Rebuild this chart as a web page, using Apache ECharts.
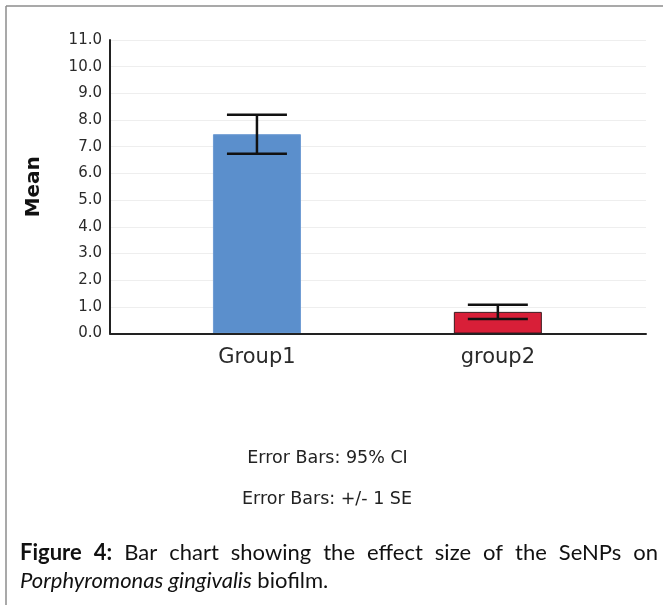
<!DOCTYPE html>
<html>
<head>
<meta charset="utf-8">
<script src="https://cdn.jsdelivr.net/npm/echarts@6/dist/echarts.min.js"></script>
<style>
html,body{margin:0;padding:0;background:#fff;}
#chart{width:663px;height:605px;}
</style>
</head>
<body>
<div id="chart"></div>
<script>
// ---- data ----
const categories = ['Group1', 'group2'];
const means = [7.47, 0.81];
const ciLower = [6.74, 0.54];
const ciUpper = [8.20, 1.08];
const barColors = ['#5b8fcc', '#d81f38'];
const yTicks = [0, 1, 2, 3, 4, 5, 6, 7, 8, 9, 10, 11];
const noteLines = ['Error Bars: 95% CI', 'Error Bars: +/- 1 SE'];
const captionLine1 = [['Figure', true], ['4:', true], ['Bar', false], ['chart', false], ['showing', false], ['the', false], ['effect', false], ['size', false], ['of', false], ['the', false], ['SeNPs', false], ['on', false]];
const captionLine2Italic = 'Porphyromonas gingivalis';
const captionLine2Rest = ' biofilm.';

const chart = echarts.init(document.getElementById('chart'));

// justified caption line 1
const capFontSize = 22;
const capFamily = 'Lato';
const ctx = document.createElement('canvas').getContext('2d');
function measure(t, bold) {
  ctx.font = (bold ? 'bold ' : '') + capFontSize + 'px ' + capFamily;
  return ctx.measureText(t).width;
}
const lineLeft = 20, lineRight = 658;
const widths = captionLine1.map(w => measure(w[0], w[1]));
const total = widths.reduce((a, b) => a + b, 0);
const gap = (lineRight - lineLeft - total) / (captionLine1.length - 1);
const captionGraphics = [];
let cx = lineLeft;
captionLine1.forEach((w, i) => {
  captionGraphics.push({
    type: 'text', x: cx, y: 552.5,
    style: { text: w[0], fontFamily: capFamily, fontSize: capFontSize, fontWeight: w[1] ? 'bold' : 'normal', fill: '#111', verticalAlign: 'middle', align: 'left' }
  });
  cx += widths[i] + gap;
});
captionGraphics.push({
  type: 'text', x: lineLeft, y: 580.5,
  style: {
    text: '{i|' + captionLine2Italic + '}{r|' + captionLine2Rest + '}',
    verticalAlign: 'middle', align: 'left',
    rich: {
      i: { fontFamily: capFamily, fontSize: capFontSize, fontStyle: 'italic', fill: '#111' },
      r: { fontFamily: capFamily, fontSize: capFontSize, fill: '#111' }
    }
  }
});

const barData = categories.map((c, i) => ({
  value: [i + 1, means[i]],
  itemStyle: { color: barColors[i], borderColor: i === 1 ? '#3b1a1e' : '#6d9bd3', borderWidth: 1 }
}));
const errData = categories.map((c, i) => [i + 1, ciLower[i], ciUpper[i]]);

const option = {
  backgroundColor: '#fff',
  animation: false,
  grid: { left: 110, right: 17, top: 40, bottom: 271.5, containLabel: false },
  xAxis: {
    type: 'value', min: 0.39, max: 2.615, z: 5,
    splitLine: { show: false },
    axisTick: { show: false },
    axisLine: { show: true, lineStyle: { color: '#222', width: 2 } },
    axisLabel: {
      customValues: [1, 2],
      formatter: v => categories[Math.round(v) - 1] || '',
      fontFamily: 'DejaVu Sans', fontSize: 21, color: '#2a2a2a', margin: 14
    }
  },
  yAxis: {
    type: 'value', min: 0, max: 11, interval: 1,
    name: 'Mean', nameLocation: 'middle', nameGap: 66, nameRotate: 90,
    nameTextStyle: { fontFamily: 'DejaVu Sans', fontWeight: 'bold', fontSize: 20, color: '#111' },
    axisLine: { show: true, lineStyle: { color: '#222', width: 2 } },
    axisTick: { show: false },
    axisLabel: { formatter: v => v.toFixed(1), fontFamily: 'DejaVu Sans', fontSize: 15, color: '#2a2a2a', margin: 8 },
    splitLine: { show: true, lineStyle: { color: '#eeeeee', width: 1 } }
  },
  series: [
    { type: 'bar', data: barData, barWidth: 88 },
    {
      type: 'custom', z: 6,
      data: errData,
      renderItem: function (params, api) {
        const x = api.value(0);
        const lo = api.coord([x, api.value(1)]);
        const hi = api.coord([x, api.value(2)]);
        const hw = 30;
        const st = { stroke: '#111', lineWidth: 2.5 };
        return {
          type: 'group',
          children: [
            { type: 'line', shape: { x1: hi[0], y1: hi[1], x2: lo[0], y2: lo[1] }, style: st },
            { type: 'line', shape: { x1: hi[0] - hw, y1: hi[1], x2: hi[0] + hw, y2: hi[1] }, style: st },
            { type: 'line', shape: { x1: lo[0] - hw, y1: lo[1], x2: lo[0] + hw, y2: lo[1] }, style: st }
          ]
        };
      }
    }
  ],
  graphic: [
    { type: 'line', shape: { x1: 6, y1: 6, x2: 663, y2: 6 }, style: { stroke: '#8c8c8c', lineWidth: 1.5 } },
    { type: 'line', shape: { x1: 6, y1: 6, x2: 6, y2: 605 }, style: { stroke: '#8c8c8c', lineWidth: 1.5 } },
    { type: 'text', x: 327.5, y: 458.5, style: { text: noteLines[0], fontFamily: 'DejaVu Sans', fontSize: 17.5, fill: '#222', align: 'center', verticalAlign: 'middle' } },
    { type: 'text', x: 327, y: 499, style: { text: noteLines[1], fontFamily: 'DejaVu Sans', fontSize: 17.5, fill: '#222', align: 'center', verticalAlign: 'middle' } }
  ].concat(captionGraphics)
};
chart.setOption(option);
</script>
</body>
</html>
